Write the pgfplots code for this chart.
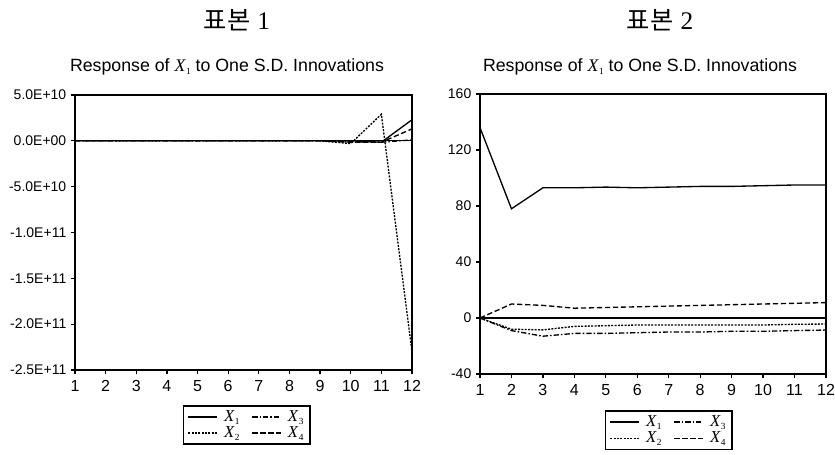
\documentclass[border=0pt]{standalone}
\usepackage{pgfplots}
\pgfplotsset{compat=1.18}
\usepackage{fontspec}
\setmainfont{Liberation Sans}
\newfontfamily\tnr{Liberation Serif}
\newfontfamily\cjk{Noto Sans CJK KR}
\newcommand{\Xs}[1]{{\tnr\itshape X}\kern0.5pt\raisebox{-0.35ex}{\tnr\scriptsize #1}}
\pgfplotsset{
  irf/.style={
    scale only axis,
    xmin=1, xmax=12,
    xtick={1,2,3,4,5,6,7,8,9,10,11,12},
    xticklabels={1,2,3,4,5,6,7,8,9,10,11,12},
    axis line style={line width=1.5pt},
    tick align=outside,
    xtick pos=bottom, ytick pos=left,
    major tick length=3pt,
    tick style={line width=0.9pt, black},
    tick label style={font=\fontsize{10.5}{12}\selectfont},
    xticklabel style={font=\fontsize{12}{13}\selectfont, yshift=-1pt},
    legend columns=2, transpose legend,
    legend cell align=left,
    legend style={draw=black, line width=1.2pt, font=\fontsize{12.5}{13}\selectfont,
      inner xsep=3pt, inner ysep=1.5pt, row sep=-1.5pt,
      /tikz/every odd column/.append style={column sep=3pt},
      /tikz/every even column/.append style={column sep=7pt}},
    legend image code/.code={\draw[#1] (0cm,0cm) -- (0.75cm,0cm);},
  },
  s1/.style={black, line width=1pt, solid},
  s2/.style={black, line width=1pt, dash pattern=on 1.5pt off 1pt},
  s3/.style={black, line width=1pt, dash pattern=on 4pt off 1.5pt on 1.2pt off 1.5pt},
  s4/.style={black, line width=1pt, dash pattern=on 4pt off 2pt},
}
\begin{document}
\begin{tikzpicture}
\useasboundingbox (0,0) rectangle (626.25pt,340.5pt);
\node[font=\fontsize{19}{20}\selectfont] at (177.75pt,325.5pt) {{\cjk 표본}\ {\tnr 1}};
\node[font=\fontsize{19}{20}\selectfont] at (495pt,325.5pt) {{\cjk 표본}\ {\tnr 2}};
\node[font=\fontsize{13.3}{15}\selectfont] at (170.25pt,290.25pt) {Response of \Xs{1} to One S.D. Innovations};
\node[font=\fontsize{13.3}{15}\selectfont] at (480pt,290.25pt) {Response of \Xs{1} to One S.D. Innovations};

\begin{axis}[irf,
  at={(56.25pt,63pt)}, anchor=south west,
  width=252.75pt, height=206.25pt,
  ymin=-25, ymax=5,
  ytick={-25,-20,-15,-10,-5,0,5},
  yticklabels={-2.5E+11,-2.0E+11,-1.5E+11,-1.0E+11,-5.0E+10,0.0E+00,5.0E+10},
  legend style={at={(0.51,-0.127)}, anchor=north},
]
\addplot[s1] coordinates {(1,0)(2,0)(3,0)(4,0)(5,0)(6,0)(7,0)(8,0)(9,0)(10,0)(11,-0.15)(12,2.3)};
\addlegendentry{\Xs{1}}
\addplot[s2] coordinates {(1,0)(2,0)(3,0)(4,0)(5,0)(6,0)(7,0)(8,0)(9,0)(10,-0.3)(11,2.9)(12,-23)};
\addlegendentry{\Xs{2}}
\addplot[s3] coordinates {(1,0)(2,0)(3,0)(4,0)(5,0)(6,0)(7,0)(8,0)(9,0)(10,-0.1)(11,-0.15)(12,0.1)};
\addlegendentry{\Xs{3}}
\addplot[s4] coordinates {(1,0)(2,0)(3,0)(4,0)(5,0)(6,0)(7,0)(8,0)(9,0)(10,-0.15)(11,-0.15)(12,1.3)};
\addlegendentry{\Xs{4}}
\addplot[black, line width=0.8pt, forget plot] coordinates {(1,0)(12,0)};
\end{axis}

\begin{axis}[irf,
  at={(360pt,60pt)}, anchor=south west,
  width=259.5pt, height=210pt,
  ymin=-40, ymax=160,
  ytick={-40,0,40,80,120,160},
  yticklabels={-40,0,40,80,120,160},
  legend style={at={(0.546,-0.129)}, anchor=north},
]
\addplot[s1] coordinates {(1,136)(2,78)(3,93)(4,93)(5,93.5)(6,93)(7,93.5)(8,94)(9,94)(10,94.5)(11,95)(12,95)};
\addlegendentry{\Xs{1}}
\addplot[s2] coordinates {(1,0)(2,-8)(3,-8.5)(4,-6)(5,-5.5)(6,-5)(7,-5)(8,-5)(9,-5)(10,-5)(11,-4.5)(12,-4.3)};
\addlegendentry{\Xs{2}}
\addplot[s3] coordinates {(1,0)(2,-9)(3,-13)(4,-11)(5,-11)(6,-10.5)(7,-10)(8,-10)(9,-9.5)(10,-9.5)(11,-9)(12,-8.6)};
\addlegendentry{\Xs{3}}
\addplot[s4] coordinates {(1,0)(2,10)(3,9)(4,7)(5,7.5)(6,8)(7,8.5)(8,9)(9,9.5)(10,10)(11,10.5)(12,11)};
\addlegendentry{\Xs{4}}
\addplot[black, line width=0.8pt, forget plot] coordinates {(1,0)(12,0)};
\end{axis}
\end{tikzpicture}
\end{document}
